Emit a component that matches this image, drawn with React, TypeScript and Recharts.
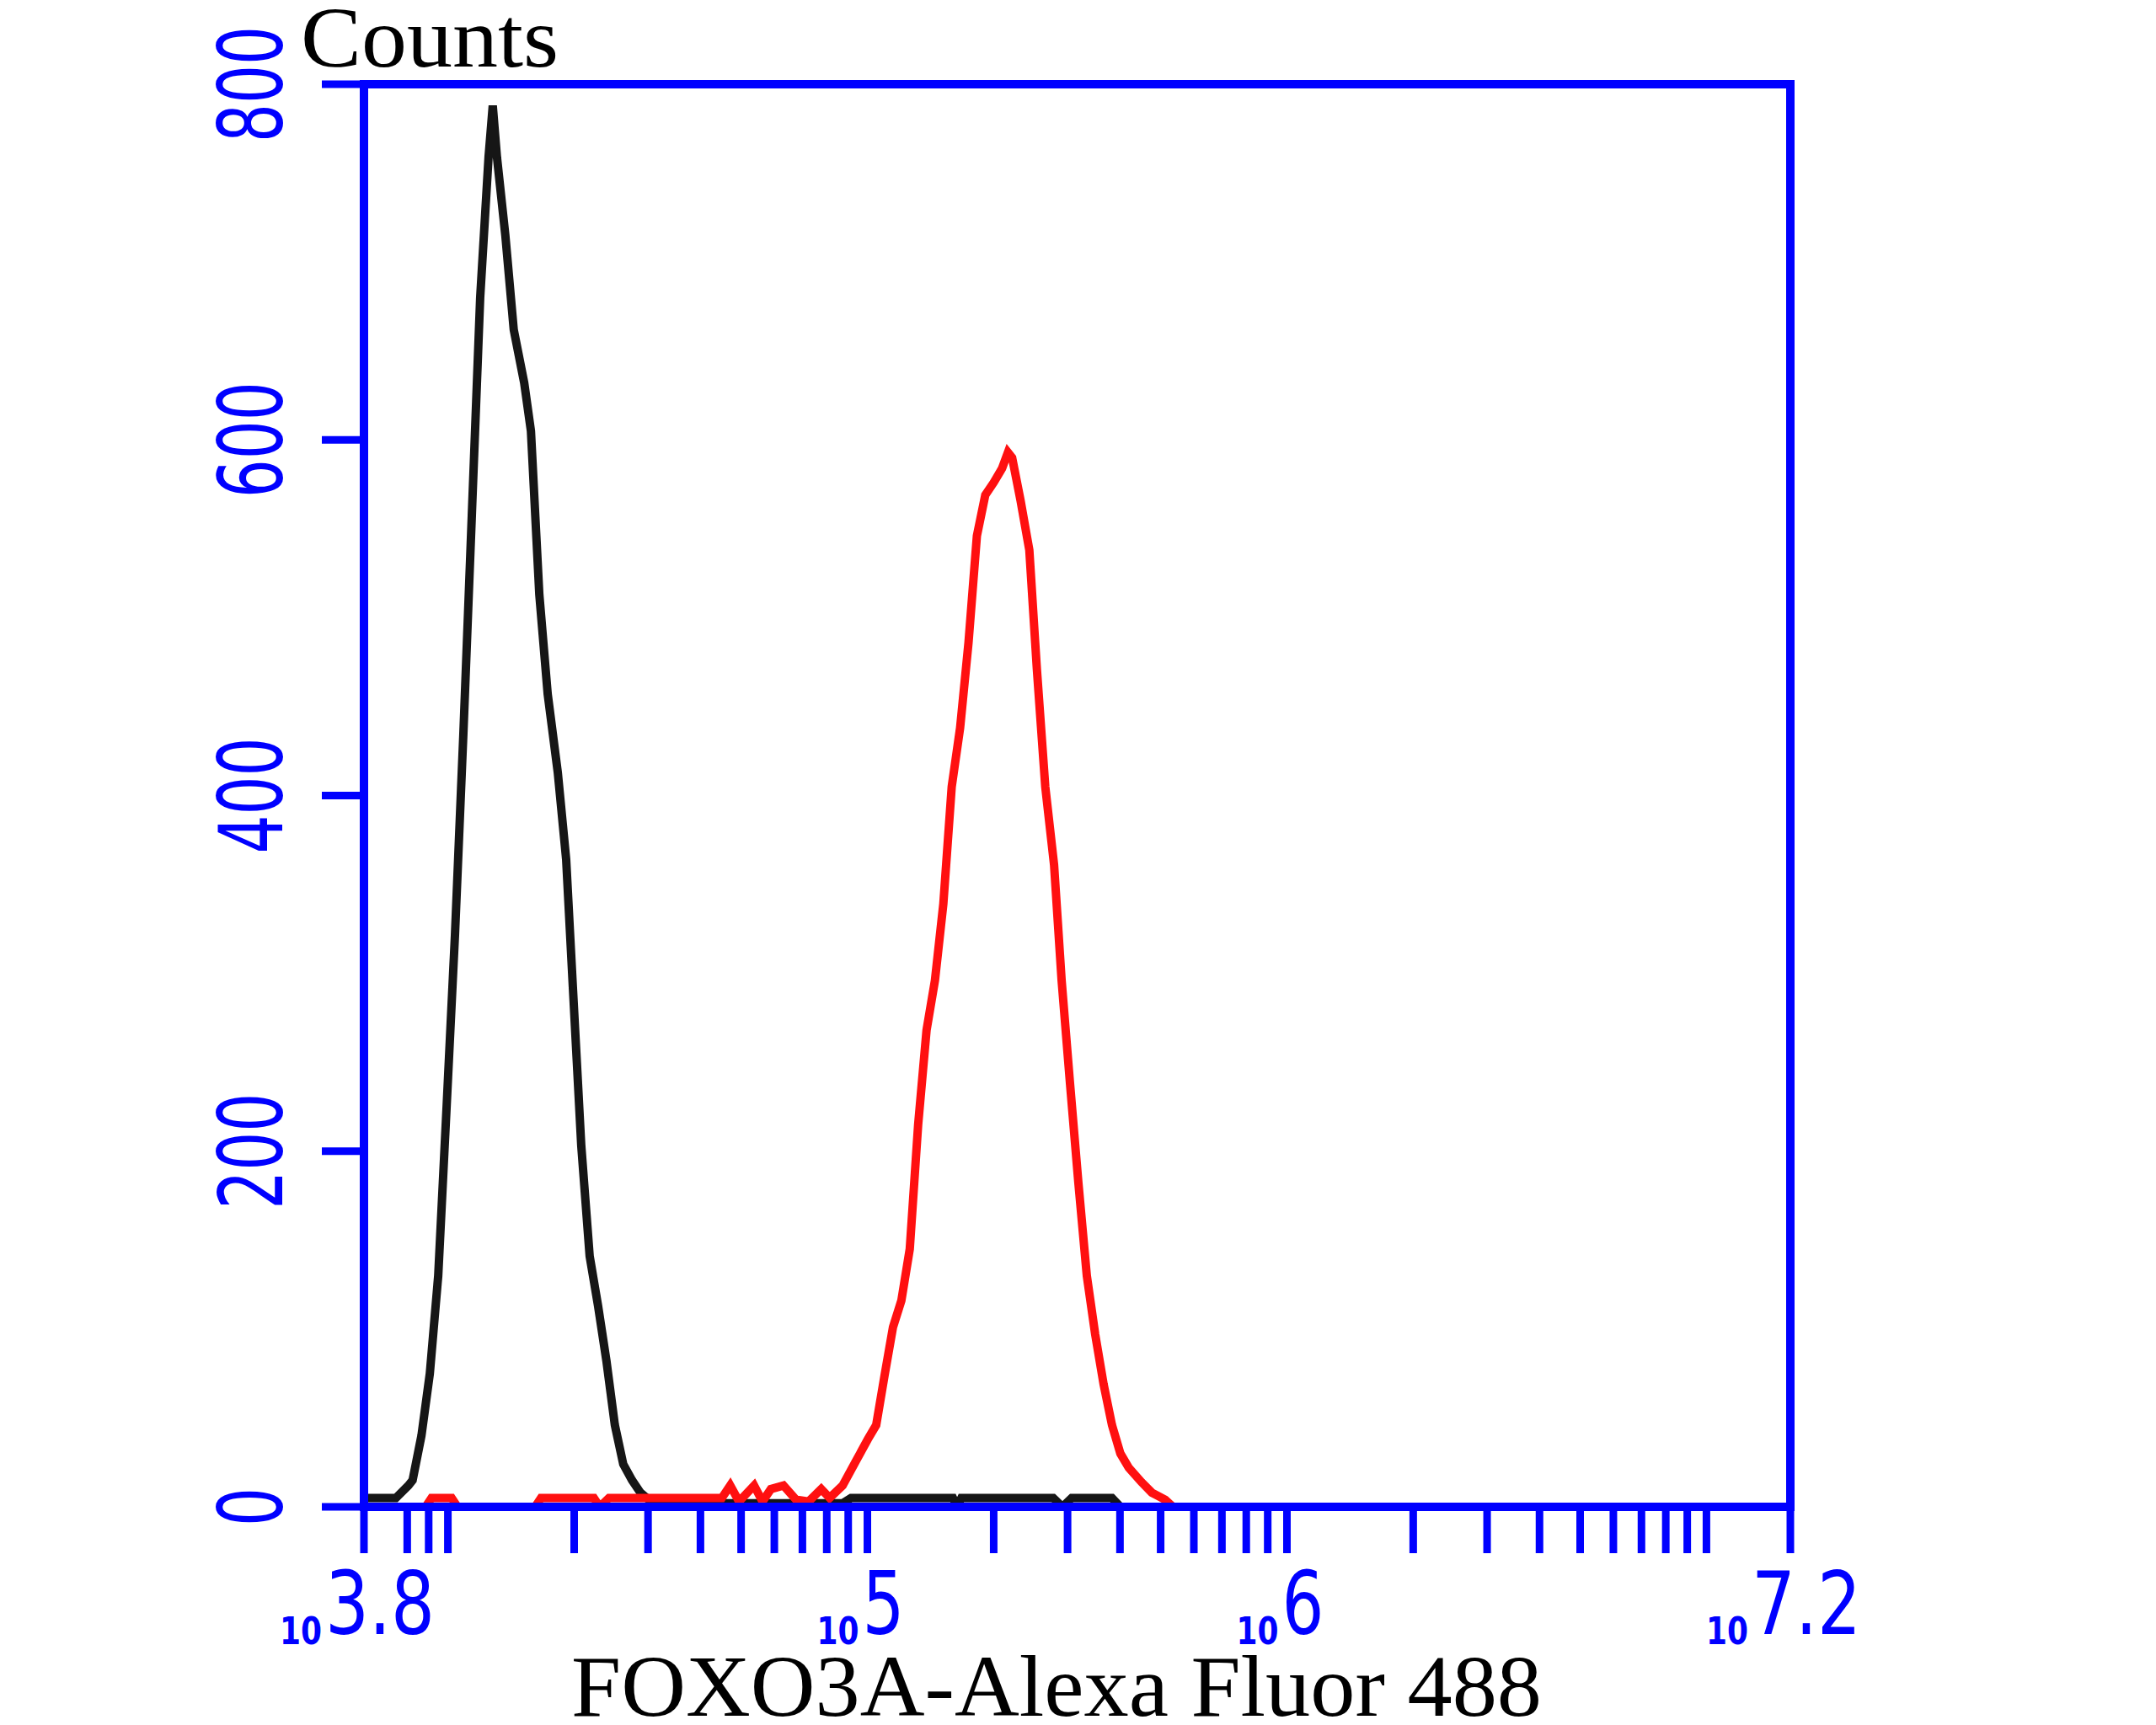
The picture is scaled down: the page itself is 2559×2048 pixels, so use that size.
import React from 'react';
import { LineChart, Line, XAxis, YAxis, ReferenceLine } from 'recharts';

const BLUE = '#0000ff';

// Black histogram (unstained / isotype control): x in log10 units of fluorescence
const blackLog = [3.800, 3.876, 3.906, 3.916, 3.937, 3.957, 3.977, 3.997, 4.017, 4.037, 4.057, 4.077, 4.097, 4.107, 4.117, 4.137, 4.157, 4.182, 4.198, 4.218, 4.238, 4.262, 4.282, 4.298, 4.318, 4.338, 4.358, 4.378, 4.398, 4.418, 4.439, 4.459, 4.479, 4.539, 4.941, 4.961, 5.204, 5.214, 5.224, 5.443, 5.465, 5.487, 5.583, 5.603, 7.200];
const blackCounts = [5, 5, 12, 15, 40, 75, 130, 225, 322, 435, 557, 680, 759, 788, 759, 715, 662, 632, 605, 513, 457, 413, 364, 292, 203, 141, 113, 82, 46, 24, 15, 8, 4, 2, 2, 5, 5, 0, 5, 5, 0, 5, 5, 0, 0];

// Red histogram (FOXO3A stained)
const redLog = [3.800, 3.947, 3.961, 4.009, 4.023, 4.208, 4.222, 4.348, 4.362, 4.384, 4.653, 4.673, 4.694, 4.730, 4.750, 4.770, 4.800, 4.830, 4.860, 4.890, 4.910, 4.941, 4.971, 5.001, 5.021, 5.041, 5.061, 5.081, 5.101, 5.121, 5.141, 5.161, 5.181, 5.201, 5.221, 5.241, 5.261, 5.281, 5.301, 5.321, 5.335, 5.345, 5.365, 5.386, 5.404, 5.424, 5.445, 5.463, 5.483, 5.503, 5.523, 5.543, 5.563, 5.583, 5.603, 5.623, 5.653, 5.678, 5.710, 5.728, 7.200];
const redCounts = [0, 0, 5, 5, 0, 0, 5, 5, 0, 5, 5, 12, 3, 12, 3, 10, 12, 4, 3, 10, 5, 12, 25, 38, 46, 74, 101, 116, 145, 215, 268, 296, 339, 405, 438, 486, 546, 569, 576, 584, 593, 590, 566, 538, 471, 405, 361, 296, 238, 182, 130, 97, 69, 46, 30, 22, 14, 8, 4, 0, 0];

const yTicks = [0, 200, 400, 600, 800];
const minorTickValues = [8000, 9000, 1e4, 2e4, 3e4, 4e4, 5e4, 6e4, 7e4, 8e4, 9e4, 1e5, 2e5, 3e5, 4e5, 5e5, 6e5, 7e5, 8e5, 9e5, 1e6, 2e6, 3e6, 4e6, 5e6, 6e6, 7e6, 8e6, 9e6, 1e7];
const majorTicks = [3.8, 5, 6, 7.2];
const majorExponents = ['3.8', '5', '6', '7.2'];
const xTicks = [3.8, ...minorTickValues.map((v) => Math.log10(v)), 7.2];

const blackData = blackLog.map((l, i) => ({ log: l, count: blackCounts[i] }));
const redData = redLog.map((l, i) => ({ log: l, count: redCounts[i] }));

const XTick = (props: any) => {
  const { x, payload } = props;
  const idx = majorTicks.findIndex((m) => Math.abs(m - payload.value) < 1e-6);
  if (idx < 0) return <g />;
  const exp = majorExponents[idx];
  const expW = exp.split('').reduce((s, c) => s + (c === '.' ? 30 : 50), 0);
  const smallW = 50;
  const left = x - 8 - (smallW + 4 + expW) / 2;
  return (
    <g>
      <text x={left} y={1952} fill={BLUE} fontFamily="DejaVu Sans" fontWeight="bold" fontSize={44} textLength={smallW} lengthAdjust="spacingAndGlyphs">10</text>
      <text x={left + smallW + 4} y={1940} fill={BLUE} fontFamily="DejaVu Sans" fontSize={103} textLength={expW} lengthAdjust="spacingAndGlyphs">{exp}</text>
    </g>
  );
};

const YTick = (props: any) => {
  const { y, payload } = props;
  const s = String(payload.value);
  return (
    <text transform={`translate(335 ${y}) rotate(-90)`} textAnchor="middle" fill={BLUE} fontFamily="DejaVu Sans" fontSize={105} textLength={s.length * 46} lengthAdjust="spacingAndGlyphs">{s}</text>
  );
};

const YTitle = () => (
  <text x={357} y={79} fill="#000" fontFamily="Liberation Serif" fontSize={102} textLength={306} lengthAdjust="spacingAndGlyphs">Counts</text>
);

const XTitle = () => (
  <text x={678} y={2037} fill="#000" fontFamily="Liberation Serif" fontSize={104} textLength={1152} lengthAdjust="spacingAndGlyphs">FOXO3A-Alexa Fluor 488</text>
);

export default function App() {
  return (
    <div style={{ position: 'absolute', left: 0, top: 0, background: '#fff' }}>
      <LineChart width={2559} height={2048} margin={{ top: 100, right: 434, bottom: 258, left: 431 }}>
        <XAxis
          type="number"
          dataKey="log"
          domain={[3.8, 7.2]}
          ticks={xTicks}
          interval={0}
          tickSize={55}
          height={1}
          tickLine={{ stroke: BLUE, strokeWidth: 9 }}
          axisLine={{ stroke: BLUE, strokeWidth: 10, strokeLinecap: 'square' }}
          tick={<XTick />}
          label={<XTitle />}
          allowDataOverflow
        />
        <YAxis
          type="number"
          domain={[0, 800]}
          ticks={yTicks}
          interval={0}
          tickSize={50}
          width={1}
          tickLine={{ stroke: BLUE, strokeWidth: 9 }}
          axisLine={{ stroke: BLUE, strokeWidth: 10, strokeLinecap: 'square' }}
          tick={<YTick />}
          label={<YTitle />}
          allowDataOverflow
        />
        <ReferenceLine y={800} stroke={BLUE} strokeWidth={10} strokeLinecap="square" />
        <ReferenceLine x={7.2} stroke={BLUE} strokeWidth={10} strokeLinecap="square" />
        <Line data={blackData} dataKey="count" type="linear" stroke="#161616" strokeWidth={10} dot={false} isAnimationActive={false} />
        <Line data={redData} dataKey="count" type="linear" stroke="#ff1010" strokeWidth={10} dot={false} isAnimationActive={false} />
      </LineChart>
    </div>
  );
}
